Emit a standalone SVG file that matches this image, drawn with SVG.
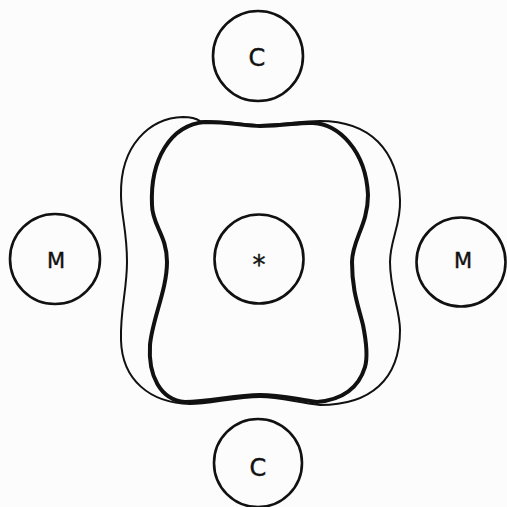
<svg xmlns="http://www.w3.org/2000/svg" width="507" height="507" viewBox="0 0 507 507">
<style>
.node circle{fill:none;stroke:#111;stroke-width:2.6}
.lbl{font-family:"DejaVu Sans","Liberation Sans",Arial,sans-serif;fill:#111;stroke:#111;stroke-width:0.4;text-anchor:middle}
.thick{fill:none;stroke:#111;stroke-width:4;stroke-linejoin:round}
.thin{fill:none;stroke:#111;stroke-width:2}
</style>
<rect width="507" height="507" fill="#fcfcfc"/>
<g id="outlines">
<path class="thin" d="M 200 121 C 230 121 245 125 260 125 C 285 125 300 121 320 121 C 370 121 398 150 400 200 C 401 225 390 240 390 262 C 390 290 400 310 400 330 C 400 380 370 405 320 405 C 295 402 280 397 260 397 C 235 397 210 404 190 404 C 150 403 122 380 121 340 C 120 310 127 290 127 262 C 127 230 121 215 121 195 C 120 145 150 118 183 117 C 192 117 197 119 200 121 Z"/>
<path class="thick" d="M 260 126 C 285 126 300 122 313 123 C 338 124 366 150 368 195 C 368 225 352 240 352 262 C 352 290 358 305 363 325 C 367 345 367 360 365 367 C 358 390 340 400 317 402 C 295 399 280 395 260 395 C 235 395 210 402 185 402 C 160 400 148 375 150 345 C 152 320 167 290 167 262 C 167 235 152 225 152 205 C 150 160 170 125 205 122 C 230 122 245 126 260 126 Z"/>
</g>
<g id="node-c-top" class="node"><circle cx="258" cy="56" r="45"/><text class="lbl" x="257" y="66" font-size="24">C</text></g>
<g id="node-m-left" class="node"><circle cx="55" cy="259" r="45"/><text class="lbl" x="56" y="268" font-size="21">M</text></g>
<g id="node-center" class="node"><circle cx="259" cy="259" r="44.5"/><text class="lbl" x="259" y="274" font-size="26">*</text></g>
<g id="node-m-right" class="node"><circle cx="461" cy="262" r="44.5"/><text class="lbl" x="463" y="268" font-size="21">M</text></g>
<g id="node-c-bottom" class="node"><circle cx="258" cy="463" r="44"/><text class="lbl" x="258" y="476" font-size="24">C</text></g>
</svg>
